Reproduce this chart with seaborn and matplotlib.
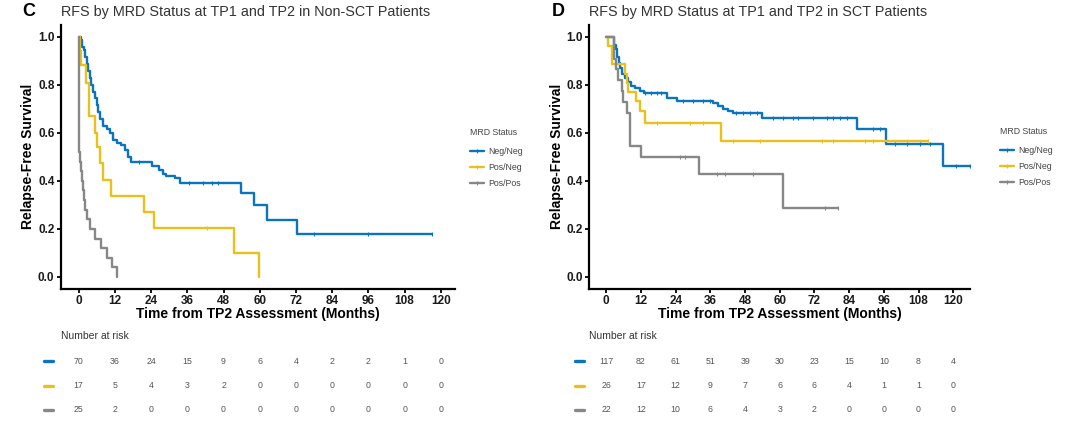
import numpy as np
import pandas as pd
import matplotlib
matplotlib.use("Agg")
import matplotlib.pyplot as plt
import seaborn as sns
from matplotlib.lines import Line2D
from matplotlib.transforms import blended_transform_factory

# ---------------- data ----------------
groups = ["Neg/Neg", "Pos/Neg", "Pos/Pos"]
colors = ["#0B74C0", "#EBC01A", "#878787"]
x_ticks = [0, 12, 24, 36, 48, 60, 72, 84, 96, 108, 120]

# Panel C : Non-SCT patients
c_nn_t = [0, 0.7, 1.2, 1.7, 2.1, 2.6, 3.1, 3.7, 4.2, 4.8, 5.3, 5.9, 6.5, 7.2, 8.0, 9.3, 10.4,
          11.5, 12.6, 14.0, 15.3, 16.2, 17.2, 24.2, 26.5, 28.0, 29.0, 32.0, 33.5, 53.7, 58.1,
          62.3, 72.3]
c_nn_s = [1.0, 0.986, 0.957, 0.943, 0.914, 0.886, 0.857, 0.829, 0.80, 0.771, 0.743, 0.714,
          0.686, 0.657, 0.629, 0.614, 0.60, 0.571, 0.557, 0.55, 0.53, 0.50, 0.48, 0.463, 0.445,
          0.43, 0.42, 0.41, 0.393, 0.351, 0.30, 0.237, 0.178]
c_nn_end = 117.0
c_nn_cens = [20.0, 36.4, 41.3, 44.1, 46.3, 78.0, 96.0, 117.0]

c_pn_t = [0, 0.4, 0.8, 2.4, 3.5, 5.4, 6.0, 7.1, 8.2, 10.8, 21.7, 25.0, 51.5, 59.9]
c_pn_s = [1.0, 0.941, 0.882, 0.806, 0.672, 0.60, 0.54, 0.473, 0.404, 0.336, 0.269, 0.202, 0.101, 0.0]
c_pn_end = 59.9
c_pn_cens = [42.4]

c_pp_t = [0, 0.1, 0.5, 0.8, 1.1, 1.4, 1.8, 2.2, 2.8, 3.6, 5.4, 7.3, 9.3, 11.0, 12.8]
c_pp_s = [1.0, 0.52, 0.48, 0.44, 0.40, 0.36, 0.32, 0.28, 0.24, 0.20, 0.16, 0.12, 0.08, 0.04, 0.0]
c_pp_end = 12.8
c_pp_cens = []

c_risk = [[70, 36, 24, 15, 9, 6, 4, 2, 2, 1, 0],
          [17, 5, 4, 3, 2, 0, 0, 0, 0, 0, 0],
          [25, 2, 0, 0, 0, 0, 0, 0, 0, 0, 0]]

# Panel D : SCT patients
d_nn_t = [0, 2.8, 3.3, 3.8, 4.3, 4.8, 5.5, 6.5, 7.5, 8.5, 9.9, 11.5, 13.0, 21.0, 24.3, 37.0,
          38.5, 40.5, 42.2, 43.9, 53.7, 86.6, 96.9, 116.5]
d_nn_s = [1.0, 0.966, 0.949, 0.915, 0.889, 0.872, 0.846, 0.829, 0.812, 0.795, 0.785, 0.775,
          0.765, 0.744, 0.733, 0.723, 0.712, 0.700, 0.692, 0.683, 0.663, 0.617, 0.555, 0.463]
d_nn_end = 125.8
d_nn_cens = [13.5, 15.5, 17.4, 19.0, 26.6, 30.0, 33.5, 35.8, 45.0, 47.4, 49.7, 52.0, 57.8,
             61.2, 64.7, 66.4, 71.6, 76.2, 78.5, 80.8, 83.1, 92.3, 94.6, 99.8, 103.9, 108.5,
             111.9, 121.0, 125.8]

d_pn_t = [0, 0.7, 1.8, 6.3, 7.0, 7.6, 10.2, 11.6, 13.4, 39.7]
d_pn_s = [1.0, 0.962, 0.885, 0.846, 0.808, 0.769, 0.731, 0.692, 0.639, 0.568]
d_pn_end = 111.4
d_pn_cens = [17.4, 28.9, 33.5, 43.9, 53.1, 74.5, 78.5, 89.5, 92.3, 111.4]

d_pp_t = [0, 2.8, 3.4, 4.1, 5.3, 5.9, 7.3, 8.2, 12.0, 32.2, 61.0]
d_pp_s = [1.0, 0.909, 0.864, 0.818, 0.773, 0.727, 0.682, 0.545, 0.50, 0.429, 0.286]
d_pp_end = 80.2
d_pp_cens = [25.5, 27.2, 38.2, 41.0, 50.8, 75.6, 80.2]

d_risk = [[117, 82, 61, 51, 39, 30, 23, 15, 10, 8, 4],
          [26, 17, 12, 9, 7, 6, 6, 4, 1, 1, 0],
          [22, 12, 10, 6, 4, 3, 2, 0, 0, 0, 0]]

panels = [
    dict(letter="C", title="RFS by MRD Status at TP1 and TP2 in Non-SCT Patients",
         curves=[(c_nn_t, c_nn_s, c_nn_end, c_nn_cens),
                 (c_pn_t, c_pn_s, c_pn_end, c_pn_cens),
                 (c_pp_t, c_pp_s, c_pp_end, c_pp_cens)],
         risk=c_risk, rect_px=(60.7, 455.0), xlim=(-5.97, 124.7), leg_px=(470, 128),
         dash_px=(44, 53)),
    dict(letter="D", title="RFS by MRD Status at TP1 and TP2 in SCT Patients",
         curves=[(d_nn_t, d_nn_s, d_nn_end, d_nn_cens),
                 (d_pn_t, d_pn_s, d_pn_end, d_pn_cens),
                 (d_pp_t, d_pp_s, d_pp_end, d_pp_cens)],
         risk=d_risk, rect_px=(589.3, 970.0), xlim=(-5.88, 125.8), leg_px=(1000, 127),
         dash_px=(575, 584)),
]

# ---------------- style ----------------
sns.set_theme(style="ticks")
plt.rcParams["font.family"] = ["Liberation Sans", "DejaVu Sans"]

W, H = 1080, 422
fig = plt.figure(figsize=(W / 100, H / 100), dpi=100)

top_px, bot_px = 25.0, 288.7

for p in panels:
    l, r = p["rect_px"]
    ax = fig.add_axes([l / W, 1 - bot_px / H, (r - l) / W, (bot_px - top_px) / H])
    rows = []
    for g, (t, s, end, cens) in zip(groups, p["curves"]):
        tt = list(t) + [end]
        ss = list(s) + [s[-1]]
        for a, b in zip(tt, ss):
            rows.append((g, a, b))
    df = pd.DataFrame(rows, columns=["group", "time", "surv"])
    sns.lineplot(data=df, x="time", y="surv", hue="group", hue_order=groups,
                 palette=colors, drawstyle="steps-post", estimator=None, sort=False,
                 lw=1.7, legend=False, ax=ax)
    for col, (t, s, end, cens) in zip(colors, p["curves"]):
        if len(cens):
            t_arr = np.array(t)
            idx = np.searchsorted(t_arr, np.array(cens), side="right") - 1
            cy = np.array(s)[idx]
            ax.plot(cens, cy, ls="none", marker="|", ms=3.5, mew=0.8, color=col)

    ax.set_xlim(*p["xlim"])
    ax.set_ylim(-0.049, 1.049)
    ax.set_xticks(x_ticks)
    ax.set_yticks([0, 0.2, 0.4, 0.6, 0.8, 1.0])
    ax.set_yticklabels(["0.0", "0.2", "0.4", "0.6", "0.8", "1.0"])
    for sp in ["top", "right"]:
        ax.spines[sp].set_visible(False)
    for sp in ["left", "bottom"]:
        ax.spines[sp].set_linewidth(1.6)
        ax.spines[sp].set_color("black")
    ax.tick_params(axis="both", length=3, width=1.3, color="black", labelsize=8.5,
                   pad=1.5, labelcolor="#1a1a1a")
    for lab in ax.get_xticklabels() + ax.get_yticklabels():
        lab.set_fontweight("bold")
    ax.set_xlabel("Time from TP2 Assessment (Months)", fontsize=10, fontweight="bold",
                  labelpad=0, color="black")
    ax.set_ylabel("Relapse-Free Survival", fontsize=10, fontweight="bold",
                  labelpad=2, color="black")

    # title and panel letter
    fig.text((l - 38) / W, 1 - 12 / H, p["letter"], fontsize=13, fontweight="bold",
             va="center", ha="left", color="black")
    fig.text((l + 0) / W, 1 - 12 / H, p["title"], fontsize=10.4, va="center", ha="left",
             color="#333333")

    # legend
    handles = [Line2D([], [], color=c, lw=1.7, marker="|", ms=3, mew=0.8) for c in colors]
    leg = fig.legend(handles, groups, title="MRD Status", loc="upper left",
                     bbox_to_anchor=(p["leg_px"][0] / W, 1 - p["leg_px"][1] / H),
                     frameon=False, fontsize=6.3, title_fontsize=6.3, handlelength=1.6,
                     handletextpad=0.5, labelspacing=0.8, borderaxespad=0,
                     borderpad=0)
    leg._legend_box.align = "left"
    leg._legend_box.sep = 7
    for txt in leg.get_texts():
        txt.set_color("#444444")
    leg.get_title().set_color("#444444")

    # risk table
    trans = blended_transform_factory(ax.transData, fig.transFigure)
    fig.text(l / W, 1 - 336 / H, "Number at risk", fontsize=7.5, color="#333333",
             va="center", ha="left")
    row_y = [361, 386, 410]
    for col, counts, y in zip(colors, p["risk"], row_y):
        for xt, n in zip(x_ticks, counts):
            ax.text(xt, 1 - y / H, str(n), transform=trans, fontsize=6.3, color="#555555",
                    ha="center", va="center")
        d0, d1 = p["dash_px"]
        fig.add_artist(Line2D([d0 / W, d1 / W], [1 - y / H, 1 - y / H], color=col, lw=2.4,
                              transform=fig.transFigure))

fig.savefig("out.png", dpi=100)
